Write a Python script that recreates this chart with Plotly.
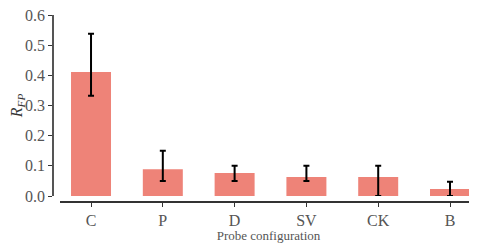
import plotly.graph_objects as go

categories = ["C", "P", "D", "SV", "CK", "B"]
values = [0.411, 0.089, 0.076, 0.063, 0.063, 0.023]
ci_upper = [0.538, 0.150, 0.100, 0.100, 0.100, 0.047]
ci_lower = [0.332, 0.050, 0.050, 0.050, 0.000, 0.000]
y_ticks = [0.0, 0.1, 0.2, 0.3, 0.4, 0.5, 0.6]

err_plus = [u - v for u, v in zip(ci_upper, values)]
err_minus = [v - l for v, l in zip(values, ci_lower)]

# page body has an 8px margin; the figure fills the rest of the window
OFF = 8
W, H = 477 - OFF, 243 - OFF
def fx(px):
    return (px - OFF) / W
def fy(py):
    return 1 - (py - OFF) / H

font_family = "Liberation Serif, DejaVu Serif, serif"
tick_color = "#555555"

fig = go.Figure(go.Bar(
    x=list(range(len(categories))),
    y=values,
    width=0.557,
    marker=dict(color="#EE8378", line=dict(width=0)),
    error_y=dict(type="data", array=err_plus, arrayminus=err_minus,
                 color="black", thickness=2, width=3, visible=True),
))

fig.update_layout(
    width=W, height=H,
    margin=dict(l=0, r=0, t=0, b=0, autoexpand=False),
    paper_bgcolor="white", plot_bgcolor="white",
    showlegend=False,
    font=dict(family=font_family, color=tick_color, size=16),
    xaxis=dict(
        domain=[fx(60), 1.0],
        range=[-0.432, 5.376],
        anchor="free", position=fy(202),
        automargin=False,
        ticklabeloverflow="allow",
        tickmode="array", tickvals=list(range(len(categories))), ticktext=categories,
        showline=True, linecolor="#333333", linewidth=1.5,
        ticks="outside", ticklen=4, tickwidth=1.2, tickcolor="#333333",
        showgrid=False, zeroline=False,
        tickfont=dict(size=16, color=tick_color),
        title=dict(text="Probe configuration", font=dict(size=13, color=tick_color), standoff=2),
    ),
    yaxis=dict(
        domain=[fy(196), fy(15)],
        range=[0, 0.6],
        anchor="free", position=fx(53),
        automargin=False,
        ticklabeloverflow="allow",
        tickmode="array", tickvals=y_ticks, ticktext=[f"{t:.1f}" for t in y_ticks],
        showline=True, linecolor="#555555", linewidth=1.5,
        ticks="outside", ticklen=4, tickwidth=1.2, tickcolor="#333333",
        showgrid=False, zeroline=False,
        tickfont=dict(size=16, color=tick_color),
        title=dict(text="<i>R</i><sub><i>FP</i></sub>", font=dict(size=16, color="#333333"), standoff=4),
    ),
)

fig.write_html("out.html")
